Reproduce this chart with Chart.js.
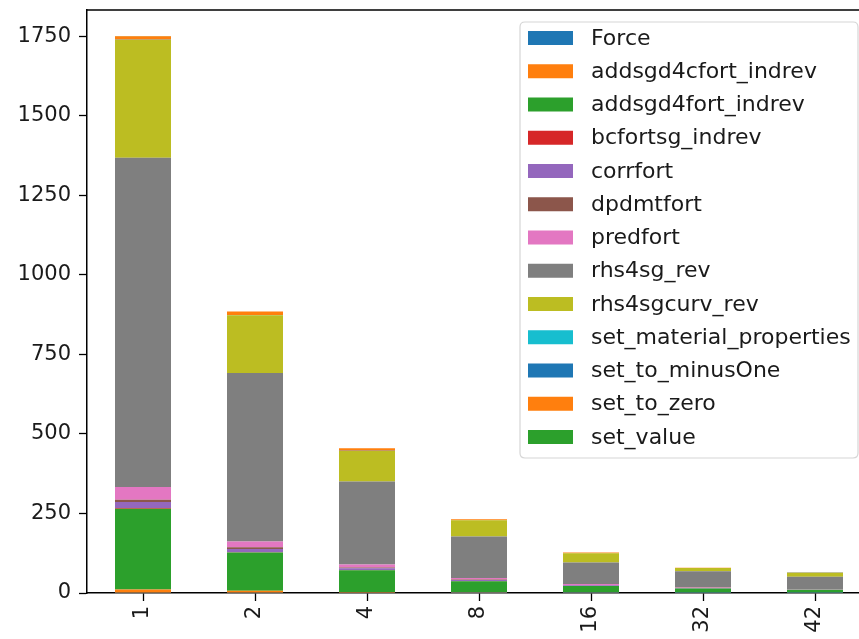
<!DOCTYPE html>
<html>
<head>
<meta charset="utf-8">
<script src="https://cdn.jsdelivr.net/npm/chart.js@4/dist/chart.umd.min.js"></script>
<style>
  html, body { margin: 0; padding: 0; background: #fff; overflow: hidden; }
  #wrap { width: 859px; height: 639px; overflow: hidden; position: relative; }
  #c { position: absolute; left: 0; top: 0; }
</style>
</head>
<body>
<div id="wrap"><canvas id="c" width="880" height="639"></canvas></div>
<script>
// Ranks (number of processes) on the x axis
const ranks = ['1', '2', '4', '8', '16', '32', '42'];
const yTicks = [0, 250, 500, 750, 1000, 1250, 1500, 1750];

// Time spent per kernel, one array per kernel
const Force                   = [1, 1, 0.5, 0.3, 0.2, 0.1, 0.1];
const addsgd4cfort_indrev     = [10, 6, 3, 2, 1.5, 1, 0.8];
const addsgd4fort_indrev      = [254, 120, 68, 35, 20, 13, 9];
const bcfortsg_indrev         = [2, 1, 1, 0.5, 0.3, 0.2, 0.1];
const corrfort                = [19, 10, 5, 3, 2, 1.5, 1];
const dpdmtfort               = [7, 6, 3, 1.5, 1, 0.5, 0.4];
const predfort                = [40, 18, 9, 5, 3, 2, 1.5];
const rhs4sg_rev              = [1035, 529, 261, 130, 68, 50, 38];
const rhs4sgcurv_rev          = [370, 182, 96, 51, 29, 10, 13];
const set_material_properties = [0.3, 0.2, 0.1, 0.1, 0.1, 0.1, 0.1];
const set_to_minusOne         = [0.5, 0.3, 0.2, 0.1, 0.1, 0.1, 0.1];
const set_to_zero             = [11, 11, 8, 3, 2, 1, 0.8];
const set_value               = [0.5, 0.3, 0.2, 0.1, 0.1, 0.1, 0.1];

const series = [
  ['Force', Force, '#1f77b4'],
  ['addsgd4cfort_indrev', addsgd4cfort_indrev, '#ff7f0e'],
  ['addsgd4fort_indrev', addsgd4fort_indrev, '#2ca02c'],
  ['bcfortsg_indrev', bcfortsg_indrev, '#d62728'],
  ['corrfort', corrfort, '#9467bd'],
  ['dpdmtfort', dpdmtfort, '#8c564b'],
  ['predfort', predfort, '#e377c2'],
  ['rhs4sg_rev', rhs4sg_rev, '#7f7f7f'],
  ['rhs4sgcurv_rev', rhs4sgcurv_rev, '#bcbd22'],
  ['set_material_properties', set_material_properties, '#17becf'],
  ['set_to_minusOne', set_to_minusOne, '#1f77b4'],
  ['set_to_zero', set_to_zero, '#ff7f0e'],
  ['set_value', set_value, '#2ca02c']
];

const FONT = '"DejaVu Sans", sans-serif';
const TXT = '#1a1a1a';

// Top spine and the framed legend in the upper right corner
const framePlugin = {
  id: 'frame',
  afterDraw(chart) {
    const ctx = chart.ctx;
    const a = chart.chartArea;
    ctx.save();
    ctx.strokeStyle = '#000';
    ctx.lineWidth = 1.5;
    ctx.beginPath();
    ctx.moveTo(a.left - 0.75, a.top);
    ctx.lineTo(a.right + 0.75, a.top);
    ctx.moveTo(a.right, a.top);
    ctx.lineTo(a.right, a.bottom);
    ctx.stroke();

    // legend box
    const lx = 520, ly = 22, lw = 338, lh = 436, r = 5;
    ctx.beginPath();
    ctx.moveTo(lx + r, ly);
    ctx.lineTo(lx + lw - r, ly);
    ctx.quadraticCurveTo(lx + lw, ly, lx + lw, ly + r);
    ctx.lineTo(lx + lw, ly + lh - r);
    ctx.quadraticCurveTo(lx + lw, ly + lh, lx + lw - r, ly + lh);
    ctx.lineTo(lx + r, ly + lh);
    ctx.quadraticCurveTo(lx, ly + lh, lx, ly + lh - r);
    ctx.lineTo(lx, ly + r);
    ctx.quadraticCurveTo(lx, ly, lx + r, ly);
    ctx.closePath();
    ctx.fillStyle = 'rgba(255,255,255,0.8)';
    ctx.fill();
    ctx.strokeStyle = '#d6d6d6';
    ctx.lineWidth = 1.2;
    ctx.stroke();

    ctx.font = '22px ' + FONT;
    ctx.textBaseline = 'middle';
    ctx.textAlign = 'left';
    chart.data.datasets.forEach((ds, i) => {
      const cy = 38 + i * 33.25;
      ctx.fillStyle = ds.backgroundColor;
      ctx.fillRect(528, cy - 7, 45, 14);
      ctx.fillStyle = TXT;
      ctx.fillText(ds.label, 591, cy + 1);
    });
    ctx.restore();
  }
};

new Chart(document.getElementById('c'), {
  type: 'bar',
  data: {
    labels: ranks,
    datasets: series.map(([name, vals, color]) => ({
      label: name,
      data: vals,
      backgroundColor: color,
      borderWidth: 0,
      categoryPercentage: 1.0,
      barPercentage: 0.5
    }))
  },
  options: {
    responsive: false,
    animation: false,
    devicePixelRatio: 1,
    layout: { padding: { top: 10, right: 9, left: 0, bottom: 0 } },
    plugins: { legend: { display: false }, tooltip: { enabled: false } },
    scales: {
      x: {
        stacked: true,
        offset: true,
        grid: { display: true, offset: false, drawOnChartArea: false, tickLength: 8, tickColor: '#000', tickWidth: 1.3 },
        border: { display: true, color: '#000', width: 1.5 },
        ticks: {
          minRotation: 90, maxRotation: 90, autoSkip: false, padding: 5,
          color: TXT, font: { family: FONT, size: 21 }
        },
        afterFit(scale) { scale.height = 46; scale.paddingLeft = 0; scale.paddingRight = 0; }
      },
      y: {
        stacked: true,
        min: 0,
        max: 1832,
        grid: { display: true, drawOnChartArea: false, tickLength: 8, tickColor: '#000', tickWidth: 1.3 },
        border: { display: true, color: '#000', width: 1.5 },
        ticks: {
          padding: 8, color: TXT, font: { family: FONT, size: 21 },
          callback: v => String(v)
        },
        afterBuildTicks(scale) { scale.ticks = yTicks.map(v => ({ value: v })); },
        afterFit(scale) { scale.width = 87; scale.paddingTop = 0; scale.paddingBottom = 0; }
      }
    }
  },
  plugins: [framePlugin]
});
</script>
</body>
</html>
